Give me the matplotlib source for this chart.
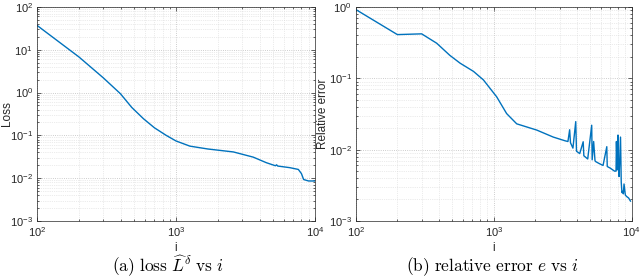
import numpy as np
import matplotlib.pyplot as plt
from matplotlib.ticker import LogLocator, NullFormatter

plt.rcParams['font.family'] = ['Liberation Sans', 'DejaVu Sans']
plt.rcParams['mathtext.fontset'] = 'cm'

# (a) training loss vs iteration
loss_i = [100, 200, 300, 398, 480, 583, 700, 850, 1000, 1260, 1700, 2590, 3600,
          4470, 5200, 5300, 5400, 6600, 7600, 8000, 8300, 9000, 10000]
loss_v = [37, 6.8, 2.2, 0.94, 0.45, 0.245, 0.15, 0.10, 0.074, 0.056, 0.048, 0.041, 0.031,
          0.023, 0.0195, 0.0205, 0.0192, 0.0176, 0.016, 0.0128, 0.0093, 0.0086, 0.0086]

# (b) relative error vs iteration
err_i = [100, 200, 300, 386, 480, 570, 713, 841, 1050, 1240, 1467, 2050, 2700, 3290, 3450,
         3550, 3600, 3750, 3930, 3980, 4200, 4450, 4500, 4800, 5130, 5170, 5300, 5420, 5480,
         5800, 6200, 6600, 6650, 7000, 7500, 7700, 7750, 7850, 7950, 8000, 8100, 8300,
         8400, 8500, 8600, 8700, 8800, 9000, 9200, 9500, 9800]
err_v = [0.92, 0.41, 0.42, 0.31, 0.21, 0.163, 0.125, 0.095, 0.055, 0.032, 0.023, 0.0188, 0.015,
         0.0133, 0.013, 0.019, 0.0125, 0.0105, 0.0247, 0.0095, 0.0088, 0.0129, 0.0082, 0.0074,
         0.022, 0.0072, 0.013, 0.007, 0.0068, 0.0064, 0.006, 0.011, 0.0058, 0.0055, 0.005,
         0.005, 0.013, 0.0052, 0.016, 0.006, 0.0042, 0.015, 0.0035, 0.0025, 0.0026, 0.0024,
         0.0033, 0.0023, 0.0022, 0.0021, 0.0019]

blue = '#0072BD'
dark = '#262626'
fig = plt.figure(figsize=(6.4, 2.79), dpi=100)
ax1 = fig.add_axes([0.058, 0.208, 0.434, 0.767])
ax2 = fig.add_axes([0.556, 0.208, 0.431, 0.767])

for ax in (ax1, ax2):
    ax.set_xscale('log')
    ax.set_yscale('log')
    ax.set_xlim(100, 1e4)
    ax.xaxis.set_minor_locator(LogLocator(subs=np.arange(2, 10)))
    ax.yaxis.set_minor_locator(LogLocator(subs=np.arange(2, 10)))
    ax.xaxis.set_minor_formatter(NullFormatter())
    ax.yaxis.set_minor_formatter(NullFormatter())
    ax.grid(True, which='major', ls=':', color='#bdbdbd', lw=0.6)
    ax.grid(True, which='minor', ls=':', color='#d8d8d8', lw=0.5)
    ax.tick_params(which='both', direction='in', top=True, right=True,
                   labelsize=8, colors=dark, width=0.5, pad=3)
    ax.tick_params(which='major', length=3)
    ax.tick_params(which='minor', length=1.5)
    for s in ax.spines.values():
        s.set_linewidth(0.5)
        s.set_color(dark)
    ax.set_xlabel('i', fontsize=8.5, color=dark, va='top')
    ax.xaxis.set_label_coords(0.5, -0.1)

ax1.plot(loss_i, loss_v, color=blue, lw=1)
ax1.set_ylim(1e-3, 1e2)
ax1.set_ylabel('Loss', fontsize=8.5, color=dark, va='center')
ax1.yaxis.set_label_coords(-0.108, 0.5)

ax2.plot(err_i, err_v, color=blue, lw=1)
ax2.set_ylim(1e-3, 1e0)
ax2.set_ylabel('Relative error', fontsize=8.5, color=dark, va='center')
ax2.yaxis.set_label_coords(-0.12, 0.5)

fig.text(0.262, 0.045, r'$\mathrm{(a)\ loss}\ \widehat{L}^{\delta}\ \mathrm{vs}\ i$',
         ha='center', va='center', fontsize=12.5)
fig.text(0.77, 0.045, r'$\mathrm{(b)\ relative\ error}\ e\ \mathrm{vs}\ i$',
         ha='center', va='center', fontsize=12.5)

fig.savefig('out.png', dpi=100)
